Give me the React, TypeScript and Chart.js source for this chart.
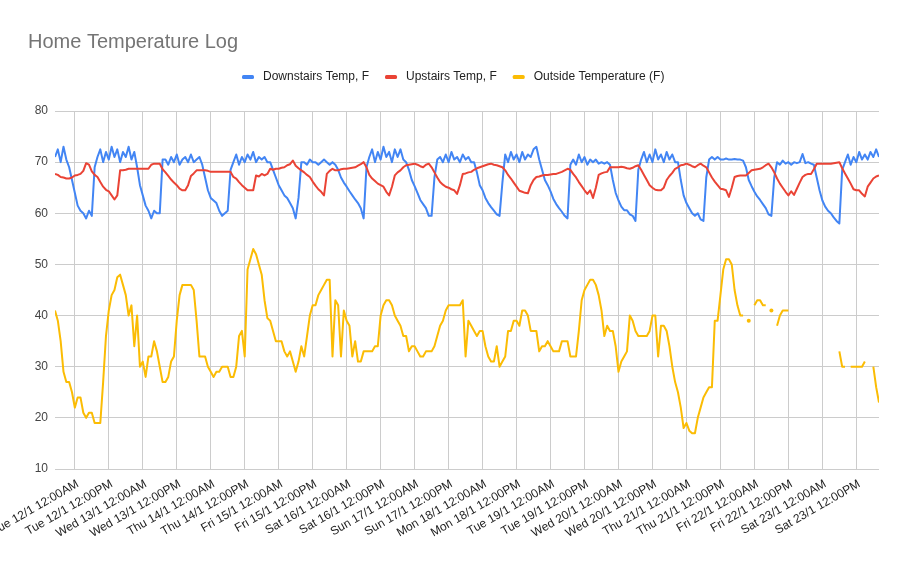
import React, { useEffect, useRef } from "react";
import { Chart, registerables } from "chart.js";

Chart.register(...registerables);

// Hours are counted from Tue 12/1 12:00AM; one reading per hour.
const START_HOUR = -7; // Mon 11/1 5PM
const END_HOUR = 284; // Sat 23/1 8PM

const TITLE = "Home Temperature Log";

const TICK_LABELS = [
  "Tue 12/1 12:00AM", "Tue 12/1 12:00PM", "Wed 13/1 12:00AM", "Wed 13/1 12:00PM",
  "Thu 14/1 12:00AM", "Thu 14/1 12:00PM", "Fri 15/1 12:00AM", "Fri 15/1 12:00PM",
  "Sat 16/1 12:00AM", "Sat 16/1 12:00PM", "Sun 17/1 12:00AM", "Sun 17/1 12:00PM",
  "Mon 18/1 12:00AM", "Mon 18/1 12:00PM", "Tue 19/1 12:00AM", "Tue 19/1 12:00PM",
  "Wed 20/1 12:00AM", "Wed 20/1 12:00PM", "Thu 21/1 12:00AM", "Thu 21/1 12:00PM",
  "Fri 22/1 12:00AM", "Fri 22/1 12:00PM", "Sat 23/1 12:00AM", "Sat 23/1 12:00PM",
];
const TICK_STEP_HOURS = 12;

const SERIES_NAMES = ["Downstairs Temp, F", "Upstairs Temp, F", "Outside Temperature (F)"];

const DOWNSTAIRS = [
  71, 72.5, 70, 73, 70.5, 69, 66.5,
  64, 61.5, 60.5, 60, 59, 60.5, 59.5, 69, 71, 72.5, 70, 72,
  70.5, 73, 71, 72.5, 70, 72, 71, 73, 70.5, 72, 69, 65.5,
  63.5, 61.5, 60.5, 59, 60.5, 60, 60, 70.5, 70.5, 69.5, 71, 70,
  71.5, 69.5, 70.5, 71, 70, 71.5, 70, 70.5, 71, 69.5, 67, 64.5,
  63, 62.5, 62, 60.5, 59.5, 60, 60.5, 68.5, 70, 71.5, 69.5, 71,
  70, 71.5, 70.5, 72, 70, 71, 70.5, 71, 70, 70, 68.5, 67,
  65.5, 64.5, 63.5, 63, 62, 61, 59, 63, 70, 70, 69.5, 70.5,
  70, 70, 69.5, 70, 70.5, 70, 69.5, 70, 69.5, 68.5, 67, 66,
  65.2, 64.3, 63.5, 62.7, 62, 61, 59, 69, 71, 72.5, 70, 72,
  70.5, 73, 71, 72, 70, 72.5, 71, 72.5, 70.5, 70, 68.5, 66.5,
  65.3, 64, 62.6, 61.8, 61, 59.5, 59.5, 67, 70.5, 71, 70, 71.5,
  70, 72, 70.5, 71, 70, 71.5, 70.5, 71, 70, 70, 68, 65.5,
  64.5, 63, 62, 61.2, 60.5, 59.8, 59.5, 66, 71.5, 70, 72, 70.5,
  71.5, 70, 72, 70.5, 71.5, 71, 72.5, 73, 70.5, 68.5, 66.5, 65.5,
  64.3, 62.8, 61.8, 61, 60.3, 59.5, 59, 69.5, 70.5, 69.5, 71.5, 70,
  71, 69.5, 70.5, 70, 70.5, 69.7, 70, 69.7, 70, 69.5, 66.5, 64,
  62.5, 61.3, 60.6, 60.6, 59.8, 59.5, 58.5, 68.5, 70.5, 72, 70, 71.5,
  70, 72.5, 70.5, 71.5, 70, 72, 70.5, 71.5, 70, 70, 66.5, 63.5,
  62, 61, 60, 59.5, 60, 58.8, 58.5, 67, 70.5, 71, 70.5, 71,
  70.5, 70.5, 70.7, 70.5, 70.5, 70.6, 70.5, 70.5, 70.3, 69, 66.5, 65.3,
  64.2, 63.3, 62.6, 61.8, 61, 59.8, 59.5, 67, 70, 69.5, 70.3, 69.7,
  70, 69.5, 70, 69.8, 70, 71.6, 69.8, 70, 69.7, 69.5, 67, 64.5,
  62.5, 61.3, 60.5, 60, 59.2, 58.5, 58, 68.5, 70, 71.5, 69.5, 71,
  70, 72, 70.5, 71.5, 70.5, 72, 71, 72.5, 71,
];

const UPSTAIRS = [
  67.7, 67.5, 67.1, 67, 66.8, 66.8, 67,
  67.4, 67.5, 67.7, 68.3, 69.8, 69.5, 68.2, 67.5, 67.1, 66.1, 65.2, 64.6,
  64.3, 63.5, 62.7, 63.5, 68.4, 68.4, 68.5, 68.7, 68.7, 68.7, 68.7, 68.7,
  68.7, 68.7, 68.7, 69.5, 69.7, 69.7, 69.7, 68.6, 68, 67.3, 66.6, 66,
  65.5, 64.8, 64.5, 64.5, 65.5, 67.3, 67.8, 68.4, 68.4, 68.4, 68.4, 68.3,
  68.1, 68.1, 68.1, 68.1, 68.1, 68.1, 68.1, 68.1, 67.1, 66.8, 66.1, 65.5,
  65, 64.5, 64.5, 64.5, 67.4, 67.2, 67.7, 67.4, 67.7, 68.7, 68.5, 68.7,
  68.7, 68.9, 69, 69.4, 69.6, 70.3, 69.3, 68.8, 68.4, 68, 67.5, 67.1,
  66.2, 65.4, 64.7, 64.2, 63.5, 67.7, 68.3, 68.7, 68.4, 68.4, 68.6, 68.7,
  68.7, 68.8, 68.9, 69, 69.3, 69.6, 70, 69, 67.5, 66.8, 66.3, 65.8,
  65.5, 65.2, 64.2, 63.5, 65.2, 67.4, 68, 68.4, 69, 69.4, 69.5, 69.6,
  69.7, 69.5, 69.2, 69, 69.5, 69.7, 69, 68, 67, 66.1, 65.6, 65.2,
  65, 64.7, 64.5, 63.8, 65.5, 67.7, 67.8, 68, 68.1, 68.5, 68.8, 69,
  69.2, 69.4, 69.6, 69.7, 69.5, 69.4, 69.2, 69, 68.4, 67.5, 66.8, 66,
  65.2, 64.4, 64.2, 64, 63.9, 65.5, 66.5, 67.1, 67.2, 67.4, 67.5, 67.5,
  67.6, 67.7, 67.7, 67.9, 68.1, 68.4, 68.7, 68.5, 67.7, 67, 66.1, 65.3,
  64.5, 63.8, 64.5, 63, 65, 67.5, 67.8, 68, 68.1, 69, 69, 69,
  69, 69.1, 69, 68.8, 68.7, 68.9, 69.2, 69.4, 68.5, 67.5, 66.5, 65.5,
  65, 64.6, 64.5, 64.5, 65, 66.5, 67.3, 67.9, 68.7, 69, 69.4, 69.5,
  69.7, 69.5, 69.2, 69, 69.4, 69.7, 69.3, 69, 68, 67, 66.2, 65.5,
  64.8, 64.7, 64.5, 63.2, 65, 67.1, 67.3, 67.4, 67.4, 67.4, 67.9, 68.4,
  68.5, 68.6, 68.7, 69, 69.4, 69.7, 69, 68, 66.8, 65.8, 65, 64.2,
  63.5, 64.3, 63.6, 64.8, 66, 67.1, 67.5, 67.7, 67.7, 68.6, 69.7, 69.7,
  69.7, 69.7, 69.7, 69.7, 69.8, 69.9, 70, 68.8, 67.8, 66.8, 65.8, 64.7,
  64.5, 64.5, 63.8, 63.3, 65.2, 66, 66.8, 67.2, 67.4,
];

const OUTSIDE: (number | null)[] = [
  41, 39, 35, 29, 27, 27, 25,
  22, 24, 24, 21, 20, 21, 21, 19, 19, 19, 27, 36,
  41, 44, 45, 47.5, 48, 46, 44, 40, 42, 34, 40, 30,
  31, 28, 32, 32, 35, 33, 30, 27, 27, 28, 31, 32,
  39, 44, 46, 46, 46, 46, 45, 39, 32, 32, 32, 30,
  29, 28, 29, 29, 30, 30, 30, 28, 28, 30, 36, 37,
  32, 49, 51, 53, 52, 50, 48, 43, 39.5, 39, 37, 35,
  35, 35, 33, 32, 33, 31, 29, 31, 34, 32, 36, 40,
  42, 42, 44, 45, 46, 47, 47, 32, 43, 42, 32, 41,
  39, 38, 32, 35, 31, 31, 33, 33, 33, 33, 34, 34,
  40, 42, 43, 43, 42, 40, 39, 38, 36, 36, 33, 34,
  34, 33, 32, 32, 33, 33, 33, 34, 36, 38, 39, 41,
  42, 42, 42, 42, 42, 43, 32, 39, 38, 37, 36, 37,
  37, 34, 32, 31, 31, 34, 30, 31, 32, 37, 37, 39,
  39, 38, 41, 41, 40, 37, 37, 37, 33, 34, 34, 35,
  34, 33, 33, 33, 35, 35, 35, 32, 32, 32, 37, 43,
  45, 46, 47, 47, 46, 44, 41, 36, 38, 37, 37, 34,
  29, 31, 32, 33, 40, 39, 37, 36, 36, 36, 36, 37,
  40, 40, 32, 38, 38, 37, 34, 30, 27, 25, 22, 18,
  19, 17.5, 17, 17, 20, 22, 24, 25, 26, 26, 39, 39,
  44, 49, 51, 51, 50, 45, 42, 40, 40, null, 39, null,
  42, 43, 43, 42, 42, null, 41, null, 38, 40, 41, 41,
  41, null, null, null, null, null, null, null, null, null, null, null,
  null, null, null, null, null, null, 33, 30, 30, null, 30, 30,
  30, 30, 30, 31, null, null, 30, 26, 23,
];

const COLORS = ["#4285F4", "#EA4335", "#FBBC04"];
const FONT = "Arial, 'Liberation Sans', sans-serif";

function toPoints(values: (number | null)[]) {
  return values.map((v, i) => ({ x: START_HOUR + i, y: v }));
}

const headerPlugin = {
  id: "header",
  afterDraw(chart: any) {
    const ctx: CanvasRenderingContext2D = chart.ctx;
    ctx.save();
    ctx.font = `20px ${FONT}`;
    ctx.fillStyle = "#757575";
    ctx.textAlign = "left";
    ctx.textBaseline = "alphabetic";
    ctx.fillText(TITLE, 28, 47.5);

    ctx.font = `12px ${FONT}`;
    const datasets = chart.data.datasets;
    const markerW = 12;
    const gapText = 9;
    const gapItem = 16;
    const widths = datasets.map((d: any) => ctx.measureText(d.label).width);
    const total =
      widths.reduce((a: number, w: number) => a + markerW + gapText + w, 0) +
      gapItem * (datasets.length - 1);
    let x = Math.round(chart.width / 2 - total / 2) - 1;
    const y = 77;
    datasets.forEach((d: any, i: number) => {
      ctx.fillStyle = d.borderColor;
      ctx.beginPath();
      if ((ctx as any).roundRect) (ctx as any).roundRect(x, y - 2, markerW, 4, 1.5);
      else ctx.rect(x, y - 2, markerW, 4);
      ctx.fill();
      ctx.fillStyle = "#222222";
      ctx.textBaseline = "middle";
      ctx.fillText(d.label, x + markerW + gapText, y);
      x += markerW + gapText + widths[i] + gapItem;
    });
    ctx.restore();
  },
};

export default function App() {
  const canvasRef = useRef<HTMLCanvasElement | null>(null);

  useEffect(() => {
    document.body.style.margin = "0";
    const canvas = canvasRef.current;
    if (!canvas) return;

    const isolatedRadius = (ctx: any) => {
      const i = ctx.dataIndex;
      const v = OUTSIDE[i];
      if (v == null) return 0;
      const prev = i > 0 ? OUTSIDE[i - 1] : null;
      const next = i < OUTSIDE.length - 1 ? OUTSIDE[i + 1] : null;
      return prev == null && next == null ? 2 : 0;
    };

    const chart = new Chart(canvas, {
      type: "line",
      data: {
        datasets: [
          {
            label: SERIES_NAMES[0],
            data: toPoints(DOWNSTAIRS),
            borderColor: COLORS[0],
            backgroundColor: COLORS[0],
            borderWidth: 2,
            pointRadius: 0,
            tension: 0,
            borderJoinStyle: "round",
            order: 2,
          },
          {
            label: SERIES_NAMES[1],
            data: toPoints(UPSTAIRS),
            borderColor: COLORS[1],
            backgroundColor: COLORS[1],
            borderWidth: 2,
            pointRadius: 0,
            tension: 0,
            borderJoinStyle: "round",
            order: 1,
          },
          {
            label: SERIES_NAMES[2],
            data: toPoints(OUTSIDE),
            borderColor: COLORS[2],
            backgroundColor: COLORS[2],
            pointBackgroundColor: COLORS[2],
            pointBorderWidth: 0,
            borderWidth: 2,
            pointRadius: isolatedRadius,
            tension: 0,
            borderJoinStyle: "round",
            spanGaps: false,
            order: 0,
          },
        ] as any,
      },
      options: {
        animation: false,
        responsive: false,
        events: [],
        layout: { padding: { top: 111, right: 29, bottom: 0, left: 0 } },
        plugins: {
          legend: { display: false },
          title: { display: false },
          tooltip: { enabled: false },
        },
        scales: {
          x: {
            type: "linear",
            min: START_HOUR,
            max: END_HOUR,
            afterBuildTicks: (axis: any) => {
              axis.ticks = TICK_LABELS.map((_, i) => ({ value: i * TICK_STEP_HOURS }));
            },
            afterFit: (axis: any) => {
              axis.height = 93;
              axis.paddingLeft = 0;
              axis.paddingRight = 0;
            },
            ticks: {
              autoSkip: false,
              minRotation: 30,
              maxRotation: 30,
              padding: 8,
              labelOffset: 3,
              color: "#222222",
              font: { family: FONT, size: 12 },
              callback: (v: any) => TICK_LABELS[Math.round(Number(v) / TICK_STEP_HOURS)] ?? "",
            },
            grid: { color: "#cccccc", drawTicks: false, lineWidth: 1 },
            border: { display: false },
          },
          y: {
            min: 10,
            max: 80,
            afterFit: (axis: any) => {
              axis.width = 55;
            },
            ticks: {
              stepSize: 10,
              padding: 7,
              color: "#444444",
              font: { family: FONT, size: 12 },
            },
            grid: { color: "#cccccc", drawTicks: false, lineWidth: 1 },
            border: { display: false },
          },
        },
      } as any,
      plugins: [headerPlugin],
    });

    return () => chart.destroy();
  }, []);

  return (
    <div style={{ position: "absolute", left: 0, top: 0, width: 908, height: 562 }}>
      <canvas ref={canvasRef} width={908} height={562} style={{ display: "block" }} />
    </div>
  );
}
